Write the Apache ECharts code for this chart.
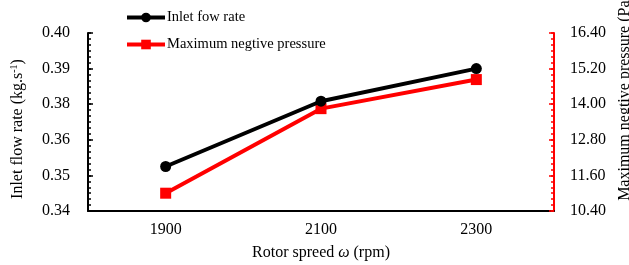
<!DOCTYPE html>
<html>
<head>
<meta charset="utf-8">
<script src="https://cdn.jsdelivr.net/npm/echarts@6/dist/echarts.min.js"></script>
<style>
  html, body { margin: 0; padding: 0; background: #fff; }
  #chart { width: 629px; height: 265px; }
</style>
</head>
<body>
<div id="chart"></div>
<script>
"use strict";

// rotor speed vs inlet flow / negative pressure
var categories = ['1900', '2100', '2300'];
var inletFlow = [0.355, 0.377, 0.388];
var negPressure = [11.0, 13.85, 14.83];

// tick labels as printed on the original axes
var leftTicks = [0.34, 0.352, 0.364, 0.376, 0.388, 0.40];
var rightTicks = [10.4, 11.6, 12.8, 14.0, 15.2, 16.4];
var leftMinor = [];
var rightMinor = [];
for (var i = 0; i <= 30; i++) {
    leftMinor.push(+(0.34 + i * 0.002).toFixed(3));
    rightMinor.push(+(10.4 + i * 0.2).toFixed(1));
}

var FONT = "'Liberation Serif', 'Times New Roman', serif";

var myChart = echarts.init(document.getElementById('chart'));

var option = {
    animation: false,
    grid: { left: 88, right: 75, top: 33, bottom: 54, outerBoundsMode: 'none' },
    legend: {
        orient: 'vertical',
        left: 120,
        top: 5,
        itemWidth: 38,
        itemHeight: 12,
        itemGap: 12,
        lineStyle: { width: 4 },
        textStyle: { fontFamily: FONT, fontSize: 14.5, color: '#000', padding: [0, 0, 0, -3] },
        data: ['Inlet fow rate', 'Maximum negtive pressure']
    },
    xAxis: {
        type: 'category',
        data: categories,
        boundaryGap: true,
        name: 'Rotor spreed {i|ω} (rpm)',
        nameLocation: 'middle',
        nameGap: 34,
        nameTextStyle: {
            fontFamily: FONT, fontSize: 16, color: '#000',
            rich: { i: { fontFamily: FONT, fontSize: 16, fontStyle: 'italic', color: '#000' } }
        },
        axisLine: { lineStyle: { color: '#000', width: 2 } },
        axisTick: { inside: true, length: 5, lineStyle: { color: '#000', width: 1.5 } },
        axisLabel: { fontFamily: FONT, fontSize: 16, color: '#000', margin: 11 },
        splitLine: { show: false }
    },
    yAxis: [{
        type: 'value',
        position: 'left',
        min: 0.34,
        max: 0.40,
        name: 'Inlet flow rate (kg.s{s|-1})',
        nameLocation: 'middle',
        nameGap: 61,
        nameRotate: 90,
        nameTextStyle: {
            fontFamily: FONT, fontSize: 16, color: '#000', padding: [0, 14, 0, 0],
            rich: { s: { fontFamily: FONT, fontSize: 10, color: '#000', verticalAlign: 'top', padding: [0, 0, 8, 0] } }
        },
        axisLine: { show: true, lineStyle: { color: '#000', width: 2 } },
        axisTick: { show: true, inside: true, length: 5, customValues: leftTicks, lineStyle: { color: '#000', width: 1.5 } },
        axisLabel: {
            fontFamily: FONT, fontSize: 16, color: '#000', margin: 18,
            customValues: leftTicks,
            formatter: function (v) { return v.toFixed(2); }
        },
        splitLine: { show: false }
    }, {
        type: 'value',
        position: 'right',
        min: 10.4,
        max: 16.4,
        name: 'Maximum negtive pressure (Pa)',
        nameLocation: 'middle',
        nameGap: 58,
        nameRotate: 90,
        nameTextStyle: { fontFamily: FONT, fontSize: 16, color: '#000', padding: [0, 0, 0, 48] },
        axisLine: { show: true, lineStyle: { color: '#ff0000', width: 2 } },
        axisTick: { show: true, inside: true, length: 5, customValues: rightTicks, lineStyle: { color: '#ff0000', width: 1.5 } },
        axisLabel: {
            fontFamily: FONT, fontSize: 16, color: '#000', margin: 16,
            customValues: rightTicks,
            formatter: function (v) { return v.toFixed(2); }
        },
        splitLine: { show: false }
    }, {
        // minor ticks, left
        type: 'value',
        position: 'left',
        min: 0.34,
        max: 0.40,
        axisLine: { show: false },
        axisTick: { show: true, inside: true, length: 3, customValues: leftMinor, lineStyle: { color: '#000', width: 1.5 } },
        axisLabel: { show: false },
        splitLine: { show: false }
    }, {
        // minor ticks, right
        type: 'value',
        position: 'right',
        min: 10.4,
        max: 16.4,
        axisLine: { show: false },
        axisTick: { show: true, inside: true, length: 3, customValues: rightMinor, lineStyle: { color: '#ff0000', width: 1.5 } },
        axisLabel: { show: false },
        splitLine: { show: false }
    }],
    series: [{
        name: 'Inlet fow rate',
        type: 'line',
        yAxisIndex: 0,
        data: inletFlow,
        symbol: 'circle',
        symbolSize: 11,
        itemStyle: { color: '#000' },
        lineStyle: { color: '#000', width: 4 },
        z: 3
    }, {
        name: 'Maximum negtive pressure',
        type: 'line',
        yAxisIndex: 1,
        data: negPressure,
        symbol: 'rect',
        symbolSize: 11,
        itemStyle: { color: '#ff0000' },
        lineStyle: { color: '#ff0000', width: 4 },
        z: 2
    }]
};

myChart.setOption(option);
</script>
</body>
</html>
